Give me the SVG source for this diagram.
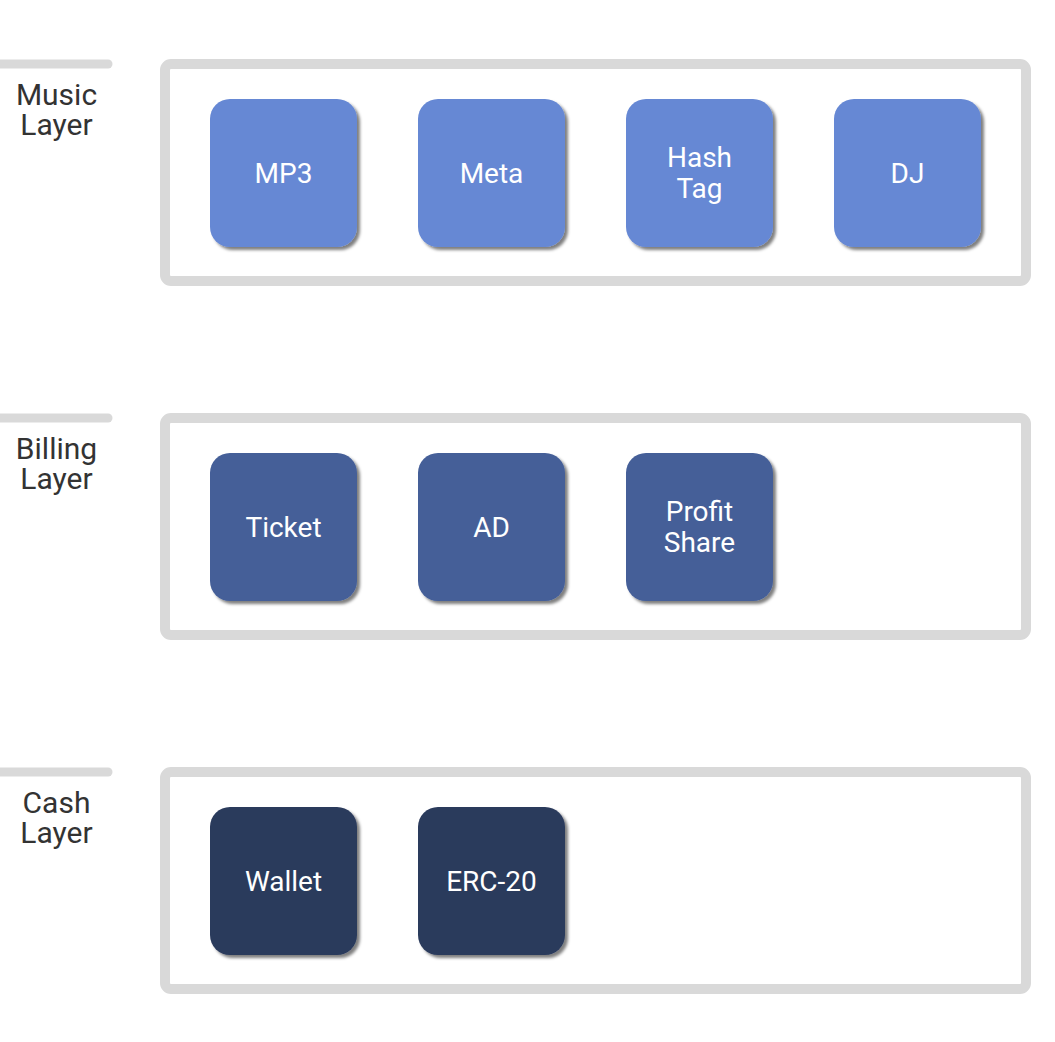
<svg xmlns="http://www.w3.org/2000/svg" width="1055" height="1042" viewBox="0 0 1055 1042">
<defs>
<filter id="sh" x="-10%" y="-10%" width="130%" height="130%">
<feDropShadow dx="3" dy="3" stdDeviation="1.8" flood-color="#000" flood-opacity="0.5"/>
</filter>
<style>
.bar{stroke:#d9d9d9;stroke-width:9;stroke-linecap:round;fill:none}
.box{fill:#fff;stroke:#d9d9d9;stroke-width:10}
.lbl{font-family:Roboto,"Liberation Sans",sans-serif;font-size:30px;fill:#333;text-anchor:middle}
.nd{filter:url(#sh)}
.nt{font-family:Roboto,"Liberation Sans",sans-serif;font-size:28px;fill:#fff;text-anchor:middle}
.m{fill:#6688d4}
.b{fill:#445e98}
.c{fill:#2a3a5c}
</style>
</defs>
<rect width="1055" height="1042" fill="#fff"/>

<g id="music-layer">
<line class="bar" x1="-10" y1="64" x2="108" y2="64"/>
<text class="lbl" x="56.5" y="105">Music</text>
<text class="lbl" x="56.5" y="135">Layer</text>
<rect class="box" x="165" y="64" width="861" height="217" rx="6"/>
</g>
<g id="node-mp3"><rect class="nd m" x="210" y="99" width="147" height="148" rx="20"/><text class="nt" x="283.5" y="183">MP3</text></g>
<g id="node-meta"><rect class="nd m" x="418" y="99" width="147" height="148" rx="20"/><text class="nt" x="491.5" y="183">Meta</text></g>
<g id="node-hashtag"><rect class="nd m" x="626" y="99" width="147" height="148" rx="20"/><text class="nt" x="699.5" y="166.5">Hash</text><text class="nt" x="699.5" y="197.5">Tag</text></g>
<g id="node-dj"><rect class="nd m" x="834" y="99" width="147" height="148" rx="20"/><text class="nt" x="907.5" y="183">DJ</text></g>

<g id="billing-layer">
<line class="bar" x1="-10" y1="418" x2="108" y2="418"/>
<text class="lbl" x="56.5" y="459">Billing</text>
<text class="lbl" x="56.5" y="489">Layer</text>
<rect class="box" x="165" y="418" width="861" height="217" rx="6"/>
</g>
<g id="node-ticket"><rect class="nd b" x="210" y="453" width="147" height="148" rx="20"/><text class="nt" x="283.5" y="537">Ticket</text></g>
<g id="node-ad"><rect class="nd b" x="418" y="453" width="147" height="148" rx="20"/><text class="nt" x="491.5" y="537">AD</text></g>
<g id="node-profitshare"><rect class="nd b" x="626" y="453" width="147" height="148" rx="20"/><text class="nt" x="699.5" y="520.5">Profit</text><text class="nt" x="699.5" y="551.5">Share</text></g>

<g id="cash-layer">
<line class="bar" x1="-10" y1="772" x2="108" y2="772"/>
<text class="lbl" x="56.5" y="813">Cash</text>
<text class="lbl" x="56.5" y="843">Layer</text>
<rect class="box" x="165" y="772" width="861" height="217" rx="6"/>
</g>
<g id="node-wallet"><rect class="nd c" x="210" y="807" width="147" height="148" rx="20"/><text class="nt" x="283.5" y="891">Wallet</text></g>
<g id="node-erc20"><rect class="nd c" x="418" y="807" width="147" height="148" rx="20"/><text class="nt" x="491.5" y="891">ERC-20</text></g>

<g id="connectors"></g>
</svg>
